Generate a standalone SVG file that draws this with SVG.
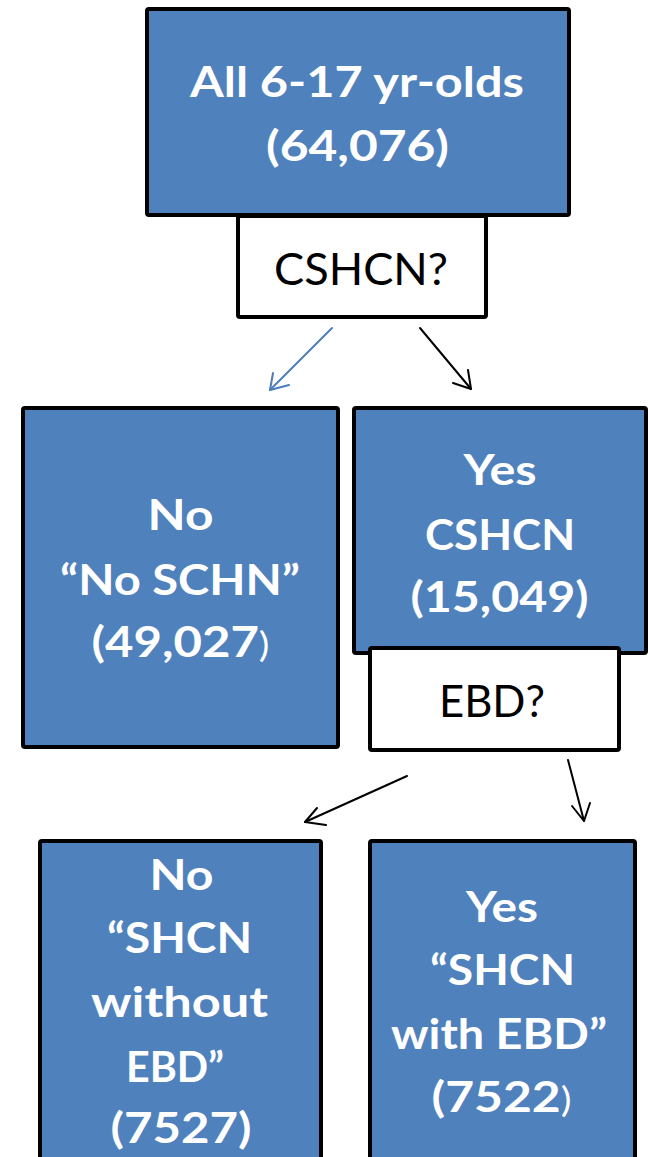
<svg xmlns="http://www.w3.org/2000/svg" width="648" height="1157" viewBox="0 0 648 1157">
<style>
.box{fill:#4F81BD;stroke:#000;stroke-width:4}
.q{fill:#fff;stroke:#000;stroke-width:4}
.t{font-family:Lato,"Open Sans","Liberation Sans",sans-serif;font-weight:bold;font-size:42px;fill:#fff;text-anchor:middle}
.r{font-family:Lato,"Open Sans","Liberation Sans",sans-serif;font-weight:normal;font-size:44px;fill:#000;text-anchor:middle}
.sp{font-weight:normal;font-size:34px}
.c{fill:none;stroke-width:2;stroke-linecap:round;stroke-linejoin:round}
</style>
<rect width="648" height="1157" fill="#fff"/>
<g id="connectors">
<g class="c" stroke="#4A7EBB"><path d="M332,328 L270,390"/><path d="M273,373 L270,390 L289,385"/></g>
<g class="c" stroke="#000"><path d="M420,328 L471,389"/><path d="M468,370 L471,389 L453,383"/></g>
<g class="c" stroke="#000"><path d="M407,776 L305,822"/><path d="M317,808 L305,822 L326,825"/></g>
<g class="c" stroke="#000"><path d="M568,760 L584,821"/><path d="M572,806 L584,821 L590,803"/></g>
</g>
<g id="node-all">
<rect class="box" x="147" y="9" width="422" height="206" rx="2"/>
<text class="t" x="357" y="97" font-size="44" textLength="334" lengthAdjust="spacingAndGlyphs">All 6-17 yr-olds</text>
<text class="t" x="357.5" y="161" font-size="44" textLength="183" lengthAdjust="spacingAndGlyphs">(64,076)</text>
</g>
<g id="node-q1">
<rect class="q" x="238" y="216" width="248" height="101" rx="2"/>
<text class="r" x="361" y="285" textLength="174" lengthAdjust="spacingAndGlyphs">CSHCN?</text>
</g>
<g id="node-no1">
<rect class="box" x="23" y="408" width="315" height="339" rx="2"/>
<text class="t" x="180.5" y="530" textLength="66" lengthAdjust="spacingAndGlyphs">No</text>
<text class="t" x="180" y="595" textLength="240" lengthAdjust="spacingAndGlyphs">“No SCHN”</text>
<text class="t" x="180.5" y="657" textLength="178" lengthAdjust="spacingAndGlyphs">(49,027<tspan class="sp">)</tspan></text>
</g>
<g id="node-yes1">
<rect class="box" x="354" y="408" width="292" height="245" rx="2"/>
<text class="t" x="500" y="485" textLength="73" lengthAdjust="spacingAndGlyphs">Yes</text>
<text class="t" x="500" y="550" textLength="150" lengthAdjust="spacingAndGlyphs">CSHCN</text>
<text class="t" x="499.5" y="612" textLength="178" lengthAdjust="spacingAndGlyphs">(15,049)</text>
</g>
<g id="node-q2">
<rect class="q" x="370" y="648" width="249" height="102" rx="2"/>
<text class="r" x="492" y="717" font-size="42" textLength="106" lengthAdjust="spacingAndGlyphs">EBD?</text>
</g>
<g id="node-no2">
<rect class="box" x="40" y="841" width="281" height="330" rx="2"/>
<text class="t" x="181.5" y="890" textLength="64" lengthAdjust="spacingAndGlyphs">No</text>
<text class="t" x="179.5" y="953" textLength="145" lengthAdjust="spacingAndGlyphs">“SHCN</text>
<text class="t" x="179.5" y="1017" textLength="177" lengthAdjust="spacingAndGlyphs">without</text>
<text class="t" x="175" y="1082" textLength="98" lengthAdjust="spacingAndGlyphs">EBD”</text>
<text class="t" x="181" y="1143" textLength="141" lengthAdjust="spacingAndGlyphs">(7527)</text>
</g>
<g id="node-yes2">
<rect class="box" x="370" y="841" width="265" height="330" rx="2"/>
<text class="t" x="502" y="922" textLength="72" lengthAdjust="spacingAndGlyphs">Yes</text>
<text class="t" x="502.5" y="985" textLength="145" lengthAdjust="spacingAndGlyphs">“SHCN</text>
<text class="t" x="499" y="1049" textLength="216" lengthAdjust="spacingAndGlyphs">with EBD”</text>
<text class="t" x="501.5" y="1112" textLength="140" lengthAdjust="spacingAndGlyphs">(7522<tspan class="sp">)</tspan></text>
</g>
</svg>
